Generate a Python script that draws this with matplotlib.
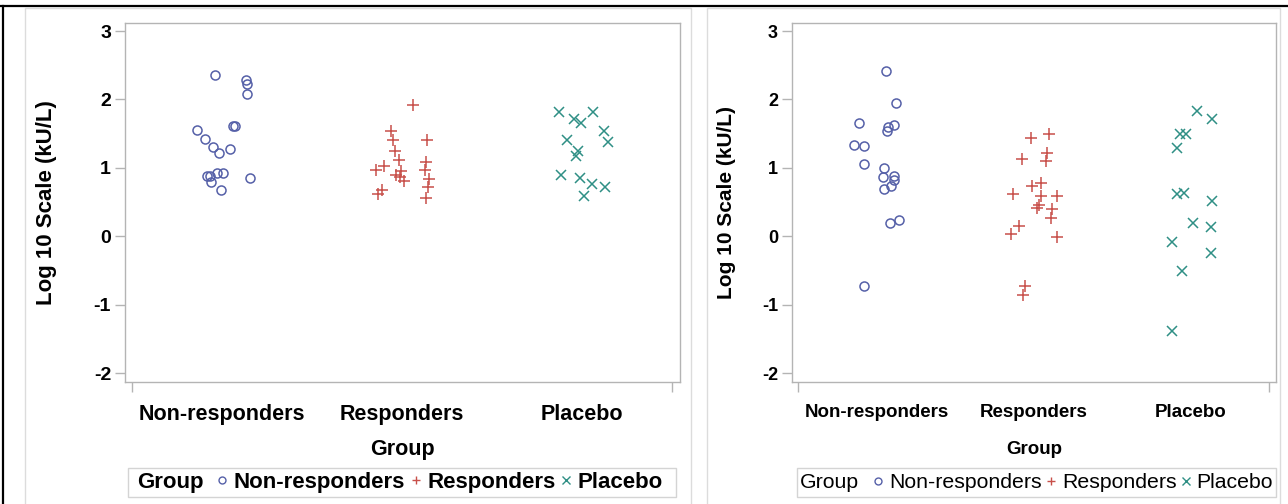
import matplotlib
matplotlib.use("Agg")
import matplotlib.pyplot as plt
from matplotlib.lines import Line2D
from matplotlib.patches import Rectangle

plt.rcParams['font.family'] = ['Liberation Sans', 'DejaVu Sans']

categories = ["Non-responders", "Responders", "Placebo"]
y_ticks = [-2, -1, 0, 1, 2, 3]

# ---- Left panel data (log10 values and horizontal jitter in category units) ----
left_nr_y = [2.36, 2.29, 2.23, 2.08, 1.56, 1.42, 1.30, 1.22, 1.28, 1.61, 1.61,
             0.875, 0.875, 0.79, 0.92, 0.92, 0.67, 0.855]
left_nr_jit = [-0.038, 0.132, 0.136, 0.140, -0.141, -0.097, -0.049, -0.018, 0.045,
               0.061, 0.069, -0.086, -0.068, -0.060, -0.031, 0.003, -0.004, 0.156]
left_r_y = [1.92, 1.535, 1.40, 1.40, 1.25, 1.12, 1.08, 0.97, 0.97, 1.02, 0.96,
            0.89, 0.865, 0.81, 0.83, 0.72, 0.68, 0.62, 0.56]
left_r_jit = [0.059, -0.064, -0.050, 0.136, -0.041, -0.017, 0.135, 0.129, -0.147,
              -0.102, -0.004, -0.034, -0.010, 0.009, 0.150, 0.147, -0.110, -0.136, 0.135]
left_p_y = [1.82, 1.81, 1.72, 1.66, 1.535, 1.385, 1.40, 1.25, 1.18, 0.89, 0.85,
            0.76, 0.72, 0.59]
left_p_jit = [-0.126, 0.059, -0.043, -0.006, 0.122, 0.144, -0.085, -0.022, -0.033,
              -0.118, -0.011, 0.054, 0.129, 0.013]

# ---- Right panel data ----
right_nr_y = [2.42, 1.95, 1.66, 1.62, 1.59, 1.545, 1.33, 1.32, 1.05, 1.00, 0.87,
              0.88, 0.82, 0.73, 0.69, 0.24, 0.19, -0.72]
right_nr_jit = [0.062, 0.123, -0.115, 0.107, 0.072, 0.064, -0.147, -0.081, -0.081,
                0.049, 0.038, 0.109, 0.109, 0.091, 0.047, 0.139, 0.083, -0.081]
right_r_y = [1.49, 1.43, 1.22, 1.10, 1.13, 0.78, 0.74, 0.62, 0.59, 0.59, 0.46,
             0.41, 0.40, 0.27, 0.15, 0.04, -0.005, -0.72, -0.86]
right_r_jit = [0.101, -0.018, 0.088, 0.080, -0.073, 0.046, -0.012, -0.133, 0.046,
               0.146, 0.037, 0.020, 0.120, 0.114, -0.091, -0.142, 0.148, -0.056, -0.069]
right_p_y = [1.83, 1.71, 1.50, 1.49, 1.29, 0.62, 0.63, 0.51, 0.19, 0.14, -0.08,
             -0.24, -0.51, -1.38]
right_p_jit = [0.043, 0.136, -0.068, -0.026, -0.085, -0.089, -0.043, 0.139, 0.019,
               0.132, -0.121, 0.128, -0.053, -0.121]

colors = ['#5560a8', '#c8504a', '#2f8f85']
markers = ['o', '+', 'x']
msizes = [6.5, 8, 6.5]

W, H = 1288, 504
fig = plt.figure(figsize=(W / 100, H / 100), dpi=100)
fig.patch.set_facecolor('white')


def px_rect(l, t, r, b):
    return [l / W, 1 - b / H, (r - l) / W, (b - t) / H]


def fx(x):
    return x / W


def fy(y):
    return 1 - y / H


# outer frame lines
fig.add_artist(Line2D([0, 1], [fy(6), fy(6)], transform=fig.transFigure, color='black', lw=1.6))
fig.add_artist(Line2D([fx(3), fx(3)], [0, fy(6)], transform=fig.transFigure, color='black', lw=1.6))
# panel borders
for (l, r) in [(25, 691), (707, 1280)]:
    fig.add_artist(Rectangle((fx(l), fy(510)), fx(r) - fx(l), fy(8) - fy(510),
                             transform=fig.transFigure, fill=False, ec='#dcdcdc', lw=1.0))

panels = [
    dict(rect=(125, 23, 680, 382), ys=[left_nr_y, left_r_y, left_p_y],
         jits=[left_nr_jit, left_r_jit, left_p_jit], fs=15.5, tfs=14, ylx=47, ylfs=16,
         leg_box=(128, 468, 676, 497), group_x=137, leg_x=216, legw='bold', legfs=16,
         hl=0.55, htp=0.25, cs=0.2),
    dict(rect=(792, 23, 1276, 382), ys=[right_nr_y, right_r_y, right_p_y],
         jits=[right_nr_jit, right_r_jit, right_p_jit], fs=13.5, tfs=13, ylx=727, ylfs=15,
         leg_box=(797, 468, 1276, 497), group_x=800, leg_x=873, legw='normal', legfs=15.3,
         hl=0.5, htp=0.25, cs=0.2),
]

gray = '#b4b4b4'
for p in panels:
    l, t, r, b = p['rect']
    ax = fig.add_axes(px_rect(l, t, r, b))
    for i in range(3):
        xs = [i + j for j in p['jits'][i]]
        if markers[i] == 'o':
            ax.plot(xs, p['ys'][i], linestyle='none', marker='o', ms=msizes[i],
                    mfc='none', mec=colors[i], mew=1.1)
        else:
            ax.plot(xs, p['ys'][i], linestyle='none', marker=markers[i], ms=msizes[i],
                    color=colors[i], mew=1.1)
    ax.set_xlim(-0.54, 2.545)
    ax.set_ylim(-2.13, 3.117)
    ax.set_yticks(y_ticks)
    ax.set_yticklabels([str(v) for v in y_ticks], fontsize=p['tfs'], fontweight='bold')
    ax.set_xticks([0, 1, 2])
    ax.set_xticklabels(categories, fontsize=p['fs'], fontweight='bold')
    ax.set_xticks([-0.5, 2.5], minor=True)
    ax.tick_params(axis='x', which='major', length=0, pad=16)
    ax.tick_params(axis='x', which='minor', length=7, color=gray, width=1)
    ax.tick_params(axis='y', length=7, color=gray, width=1, pad=3)
    for s in ax.spines.values():
        s.set_color(gray)
        s.set_linewidth(1)
    cx = (l + r) / 2
    fig.text(fx(cx), fy(450), 'Group', ha='center', va='center',
             fontsize=p['fs'], fontweight='bold')
    fig.text(fx(p['ylx']), fy((t + b) / 2), 'Log 10 Scale (kU/L)', rotation=90,
             ha='center', va='center', fontsize=p['ylfs'], fontweight='bold')
    # legend
    bl, bt, br, bb = p['leg_box']
    fig.add_artist(Rectangle((fx(bl), fy(bb)), fx(br) - fx(bl), fy(bt) - fy(bb),
                             transform=fig.transFigure, fill=False, ec='#d4d4d4', lw=1.0))
    fig.text(fx(p['group_x']), fy((bt + bb) / 2), 'Group', ha='left', va='center',
             fontsize=p['legfs'], fontweight=p['legw'])
    handles = []
    for i in range(3):
        if markers[i] == 'o':
            h = Line2D([], [], linestyle='none', marker='o', ms=5, mfc='none',
                       mec=colors[i], mew=1.0, label=categories[i])
        else:
            h = Line2D([], [], linestyle='none', marker=markers[i], ms=6,
                       color=colors[i], mew=1.0, label=categories[i])
        handles.append(h)
    fig.legend(handles=handles, loc='center left',
               bbox_to_anchor=(fx(p['leg_x']), fy((bt + bb) / 2)),
               ncol=3, frameon=False, handlelength=p['hl'], handletextpad=p['htp'],
               columnspacing=p['cs'], borderpad=0, borderaxespad=0,
               prop={'size': p['legfs'], 'weight': p['legw']})

fig.savefig('out.png', dpi=100)
